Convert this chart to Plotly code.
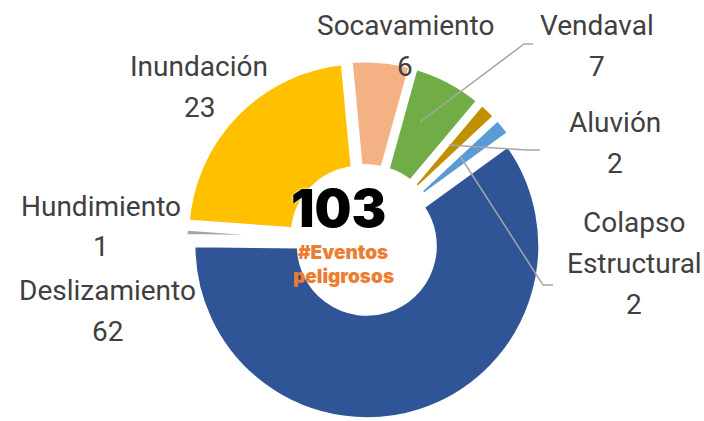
import plotly.graph_objects as go

W, H = 704, 421

# data
labels = ["Deslizamiento", "Hundimiento", "Inundación", "Socavamiento",
          "Vendaval", "Aluvión", "Colapso Estructural"]
values = [62, 1, 23, 6, 7, 2, 2]
colors = ["#2F5597", "#A5A5A5", "#FFC000", "#F4B183", "#70AD47", "#BF9000", "#5B9BD5"]
total_text = "103"
sub_lines = ["#Eventos", "peligrosos"]

# label placement: centre x, y of first line (pixels)
label_pos = {
    "Deslizamiento": (107, 290),
    "Hundimiento": (101, 206),
    "Inundación": (199, 67),
    "Socavamiento": (405, 26),
    "Vendaval": (597, 26),
    "Aluvión": (615, 123),
    "Colapso Estructural": (634, 222),
}
LINE_GAP = 41
leaders = [
    [(420, 122), (524, 44), (533, 44)],
    [(449, 145), (527, 150), (540, 150)],
    [(460, 156), (543, 285), (553, 285)],
]

LABEL_FONT = dict(family="Roboto, Liberation Sans", size=28, color="#404040")


def px(x, y):
    return x / W, 1 - y / H


CX, CY = 365, 240
fig = go.Figure(go.Pie(
    labels=labels, values=values, sort=False, direction="clockwise", rotation=54,
    hole=0.38, pull=[0.035] * len(values),
    marker=dict(colors=colors, line=dict(color="white", width=7)),
    textinfo="none", hoverinfo="label+value",
    domain=dict(x=[(CX - 184) / W, (CX + 184) / W], y=[0, 2 * (1 - CY / H)]),
))

for lab, val in zip(labels, values):
    lx, ly = label_pos[lab]
    lines = lab.split(" ") + [str(val)]
    for k, line in enumerate(lines):
        x, y = px(lx, ly + k * LINE_GAP)
        fig.add_annotation(x=x, y=y, xref="paper", yref="paper", text=line, showarrow=False,
                           font=LABEL_FONT, xanchor="center", yanchor="middle")

for pts in leaders:
    path = "M " + " L ".join(f"{px(a, b)[0]},{px(a, b)[1]}" for a, b in pts)
    fig.add_shape(type="path", path=path, xref="paper", yref="paper",
                  line=dict(color="#A6A6A6", width=1.5))

x, y = px(338, 208)
fig.add_annotation(x=x, y=y, xref="paper", yref="paper", text=total_text, showarrow=False,
                   font=dict(family="Inter, Roboto", size=52, color="black", weight=900,
                             shadow="0px 0px 3px white"))
for k, line in enumerate(sub_lines):
    x, y = px(343, 252 + k * 24)
    fig.add_annotation(x=x, y=y, xref="paper", yref="paper", text=line, showarrow=False,
                       font=dict(family="Inter, Roboto", size=19, color="#ED7D31", weight=900))

fig.update_layout(
    width=W, height=H, showlegend=False,
    margin=dict(l=0, r=0, t=0, b=0),
    paper_bgcolor="white", plot_bgcolor="white",
)

fig.write_html("out.html", config={"displayModeBar": False},
               post_script="document.body.style.margin='0';")
